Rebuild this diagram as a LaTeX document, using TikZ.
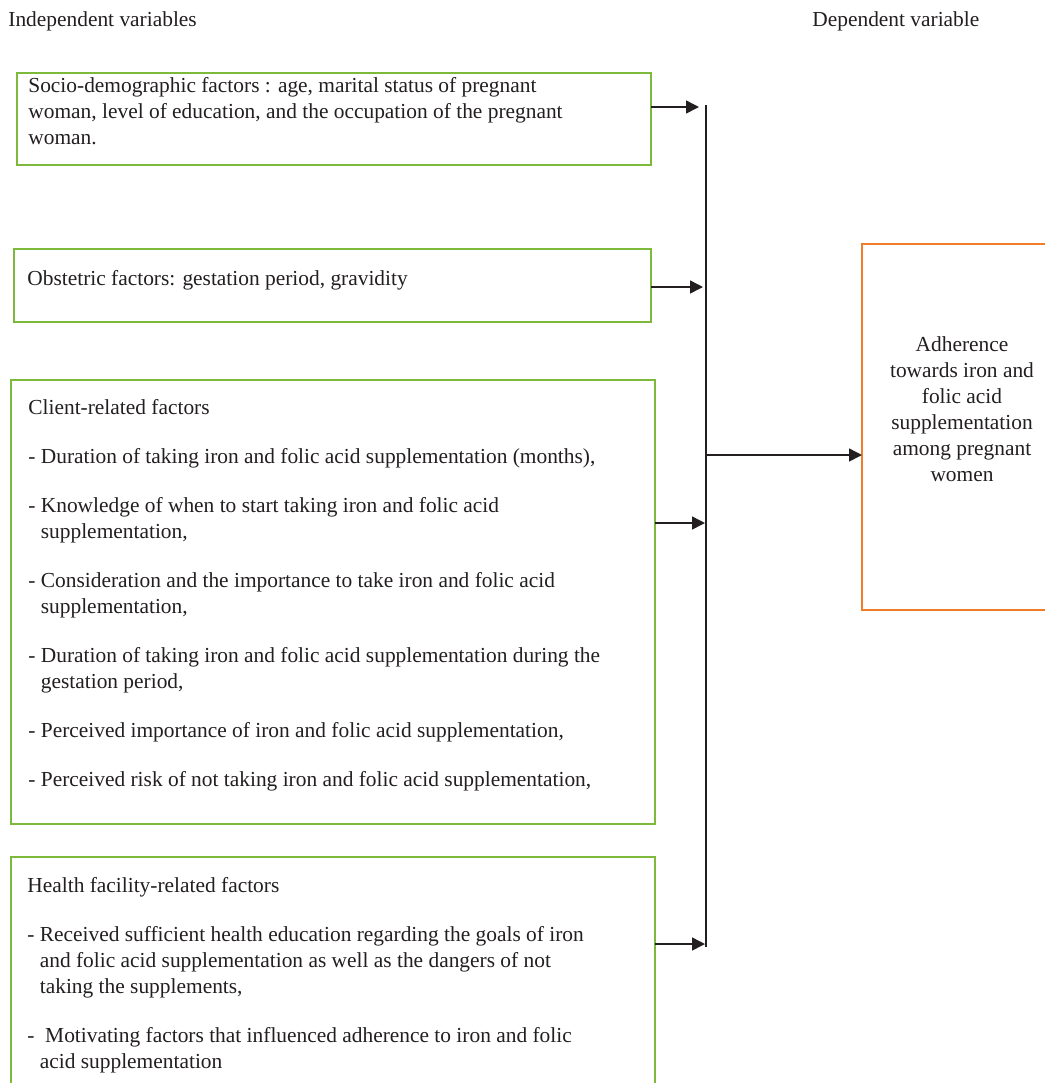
\documentclass[tikz,border=0pt]{standalone}
\usepackage{fontspec}
\setmainfont{Liberation Serif}
\usetikzlibrary{arrows.meta}
\definecolor{boxgreen}{RGB}{125,186,60}
\definecolor{boxorange}{RGB}{240,125,40}
\definecolor{ink}{RGB}{35,31,32}
\begin{document}
\begin{tikzpicture}[x=0.5pt,y=-0.5pt,
  font=\fontsize{10.7}{13}\selectfont, text=ink,
  gbox/.style={draw=boxgreen, line width=0.8pt, inner sep=0pt, outer sep=0pt, anchor=north west},
  obox/.style={draw=boxorange, line width=0.9pt, inner sep=0pt, outer sep=0pt, anchor=north west},
  txt/.style={inner sep=0pt, anchor=north west, align=left},
  conn/.style={draw=ink, line width=0.75pt},
  arr/.style={conn, -{Triangle[length=6.5pt,width=6.5pt]}}]
\clip (0,0) rectangle (1045,1083);
\fill[white] (0,0) rectangle (1045,1083);

% titles
\node[inner sep=0pt, anchor=west] (tind) at (8,21) {Independent variables};
\node[inner sep=0pt, anchor=west] (tdep) at (812,21) {Dependent variable};

% boxes
\node[gbox, minimum width=317pt, minimum height=46pt] (b1) at (17,73) {};
\node[gbox, minimum width=318.5pt, minimum height=36.5pt] (b2) at (14,249) {};
\node[gbox, minimum width=322pt, minimum height=222pt] (b3) at (11,380) {};
\node[gbox, minimum width=322pt, minimum height=125pt] (b4) at (11,857) {};
\node[obox, minimum width=100pt, minimum height=183pt] (out) at (862,244) {};

% texts
\node[txt] (t1) at (28,77) {Socio-demographic factors : age, marital status of pregnant\\
woman, level of education, and the occupation of the pregnant\\
woman.};
\node[txt] (t2) at (27,270) {Obstetric factors: gestation period, gravidity};
\node[txt] (t3) at (28,399) {Client-related factors\\[11.5pt]
- Duration of taking iron and folic acid supplementation (months),\\[11.5pt]
- Knowledge of when to start taking iron and folic acid\\
\phantom{- }supplementation,\\[11.5pt]
- Consideration and the importance to take iron and folic acid\\
\phantom{- }supplementation,\\[11.5pt]
- Duration of taking iron and folic acid supplementation during the\\
\phantom{- }gestation period,\\[11.5pt]
- Perceived importance of iron and folic acid supplementation,\\[11.5pt]
- Perceived risk of not taking iron and folic acid supplementation,};
\node[txt] (t4) at (27,877) {Health facility-related factors\\[11.5pt]
- Received sufficient health education regarding the goals of iron\\
\phantom{- }and folic acid supplementation as well as the dangers of not\\
\phantom{- }taking the supplements,\\[11.5pt]
-\ \ Motivating factors that influenced adherence to iron and folic\\
\phantom{- }acid supplementation};
\node[inner sep=0pt, align=center] (tout) at (962,409) {Adherence\\towards iron and\\folic acid\\supplementation\\among pregnant\\women};

% connectors
\coordinate (j1) at (699,107);
\coordinate (j2) at (703,287);
\coordinate (j3) at (705,523);
\coordinate (j4) at (705,944);
\coordinate (jm) at (706,455);
\coordinate (jtop) at (706,105);
\coordinate (jbot) at (706,947);
\draw[conn] (jtop) -- (jbot);
\draw[arr] (b1.east |- j1) -- (j1);
\draw[arr] (b2.east |- j2) -- (j2);
\draw[arr] (b3.east |- j3) -- (j3);
\draw[arr] (b4.east |- j4) -- (j4);
\draw[arr] (jm) -- (out.west |- jm);
\end{tikzpicture}
\end{document}
